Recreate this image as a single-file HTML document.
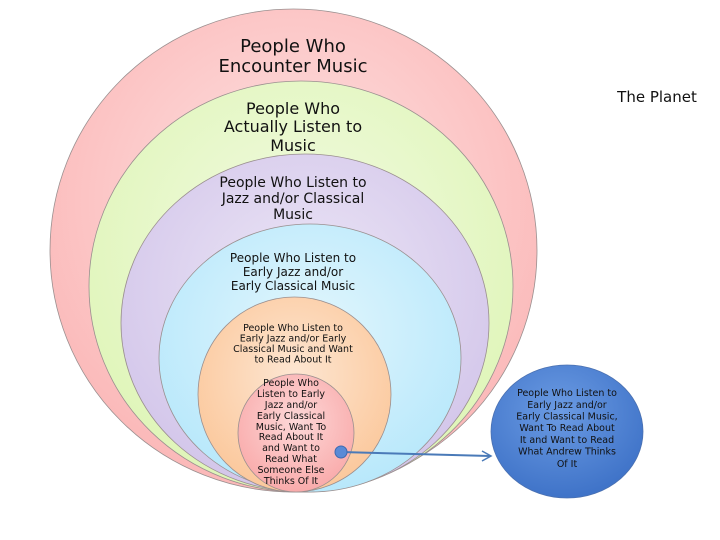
<!DOCTYPE html>
<html><head><meta charset="utf-8"><style>
body{margin:0;background:#fff}
svg{display:block}
text{font-family:"DejaVu Sans","Liberation Sans",sans-serif;fill:#111;text-anchor:middle}
</style></head><body>
<svg width="720" height="540" viewBox="0 0 720 540">
<defs>
<radialGradient id="gr" cx="50%" cy="40%" r="60%"><stop offset="0" stop-color="#fde2e2"/><stop offset="1" stop-color="#fbb8b8"/></radialGradient>
<radialGradient id="gg" cx="50%" cy="40%" r="60%"><stop offset="0" stop-color="#f2fbe2"/><stop offset="1" stop-color="#dff5b8"/></radialGradient>
<radialGradient id="gp" cx="50%" cy="40%" r="60%"><stop offset="0" stop-color="#ece6f6"/><stop offset="1" stop-color="#d3c6ea"/></radialGradient>
<radialGradient id="gc" cx="50%" cy="40%" r="60%"><stop offset="0" stop-color="#e2f6fd"/><stop offset="1" stop-color="#b8e8fb"/></radialGradient>
<radialGradient id="go" cx="50%" cy="40%" r="60%"><stop offset="0" stop-color="#fde6d2"/><stop offset="1" stop-color="#fbc89c"/></radialGradient>
<radialGradient id="gk" cx="50%" cy="40%" r="60%"><stop offset="0" stop-color="#fdd8d8"/><stop offset="1" stop-color="#f9abab"/></radialGradient>
<radialGradient id="gb" cx="45%" cy="35%" r="65%"><stop offset="0" stop-color="#6b9be3"/><stop offset="1" stop-color="#3f73c8"/></radialGradient>
</defs>
<g stroke="#9a8f8f" stroke-width="0.8">
<ellipse cx="293.5" cy="250.5" rx="243.5" ry="241.5" fill="url(#gr)"/>
<ellipse cx="301" cy="286.5" rx="212" ry="205.5" fill="url(#gg)"/>
<ellipse cx="305" cy="323" rx="184" ry="169" fill="url(#gp)"/>
<ellipse cx="310" cy="358" rx="151" ry="134" fill="url(#gc)"/>
<ellipse cx="294.5" cy="394.5" rx="96.5" ry="97.5" fill="url(#go)"/>
<ellipse cx="296" cy="433" rx="58" ry="59" fill="url(#gk)"/>
<ellipse cx="567" cy="431.5" rx="76" ry="66.5" fill="url(#gb)" stroke="#4a70b0"/>
</g>
<line x1="341" y1="452" x2="490" y2="456" stroke="#4a7ab8" stroke-width="2"/>
<path d="M482 451 L491 456 L482 461" fill="none" stroke="#4a7ab8" stroke-width="1.5"/>
<circle cx="341" cy="452" r="6" fill="#5a8ad6" stroke="#3d6ab0"/>
<text x="657" y="102" font-size="15">The Planet</text>
<g font-size="18"><text x="293" y="52">People Who</text><text x="293" y="72">Encounter Music</text></g>
<g font-size="16"><text x="293" y="114">People Who</text><text x="293" y="132">Actually Listen to</text><text x="293" y="151">Music</text></g>
<g font-size="14"><text x="293" y="187">People Who Listen to</text><text x="293" y="203">Jazz and/or Classical</text><text x="293" y="219">Music</text></g>
<g font-size="12"><text x="293" y="262">People Who Listen to</text><text x="293" y="276">Early Jazz and/or</text><text x="293" y="290">Early Classical Music</text></g>
<g font-size="9.5"><text x="293" y="331">People Who Listen to</text><text x="293" y="341.5">Early Jazz and/or Early</text><text x="293" y="352">Classical Music and Want</text><text x="293" y="362.5">to Read About It</text></g>
<g font-size="9.5"><text x="291" y="386">People Who</text><text x="291" y="397">Listen to Early</text><text x="291" y="408">Jazz and/or</text><text x="291" y="419">Early Classical</text><text x="291" y="430">Music, Want To</text><text x="291" y="440">Read About It</text><text x="291" y="451">and Want to</text><text x="291" y="462">Read What</text><text x="291" y="473">Someone Else</text><text x="291" y="484">Thinks Of It</text></g>
<g font-size="9.5"><text x="567" y="396">People Who Listen to</text><text x="567" y="408">Early Jazz and/or</text><text x="567" y="419.5">Early Classical Music,</text><text x="567" y="431">Want To Read About</text><text x="567" y="443">It and Want to Read</text><text x="567" y="454.5">What Andrew Thinks</text><text x="567" y="467">Of It</text></g>
</svg>
</body></html>
